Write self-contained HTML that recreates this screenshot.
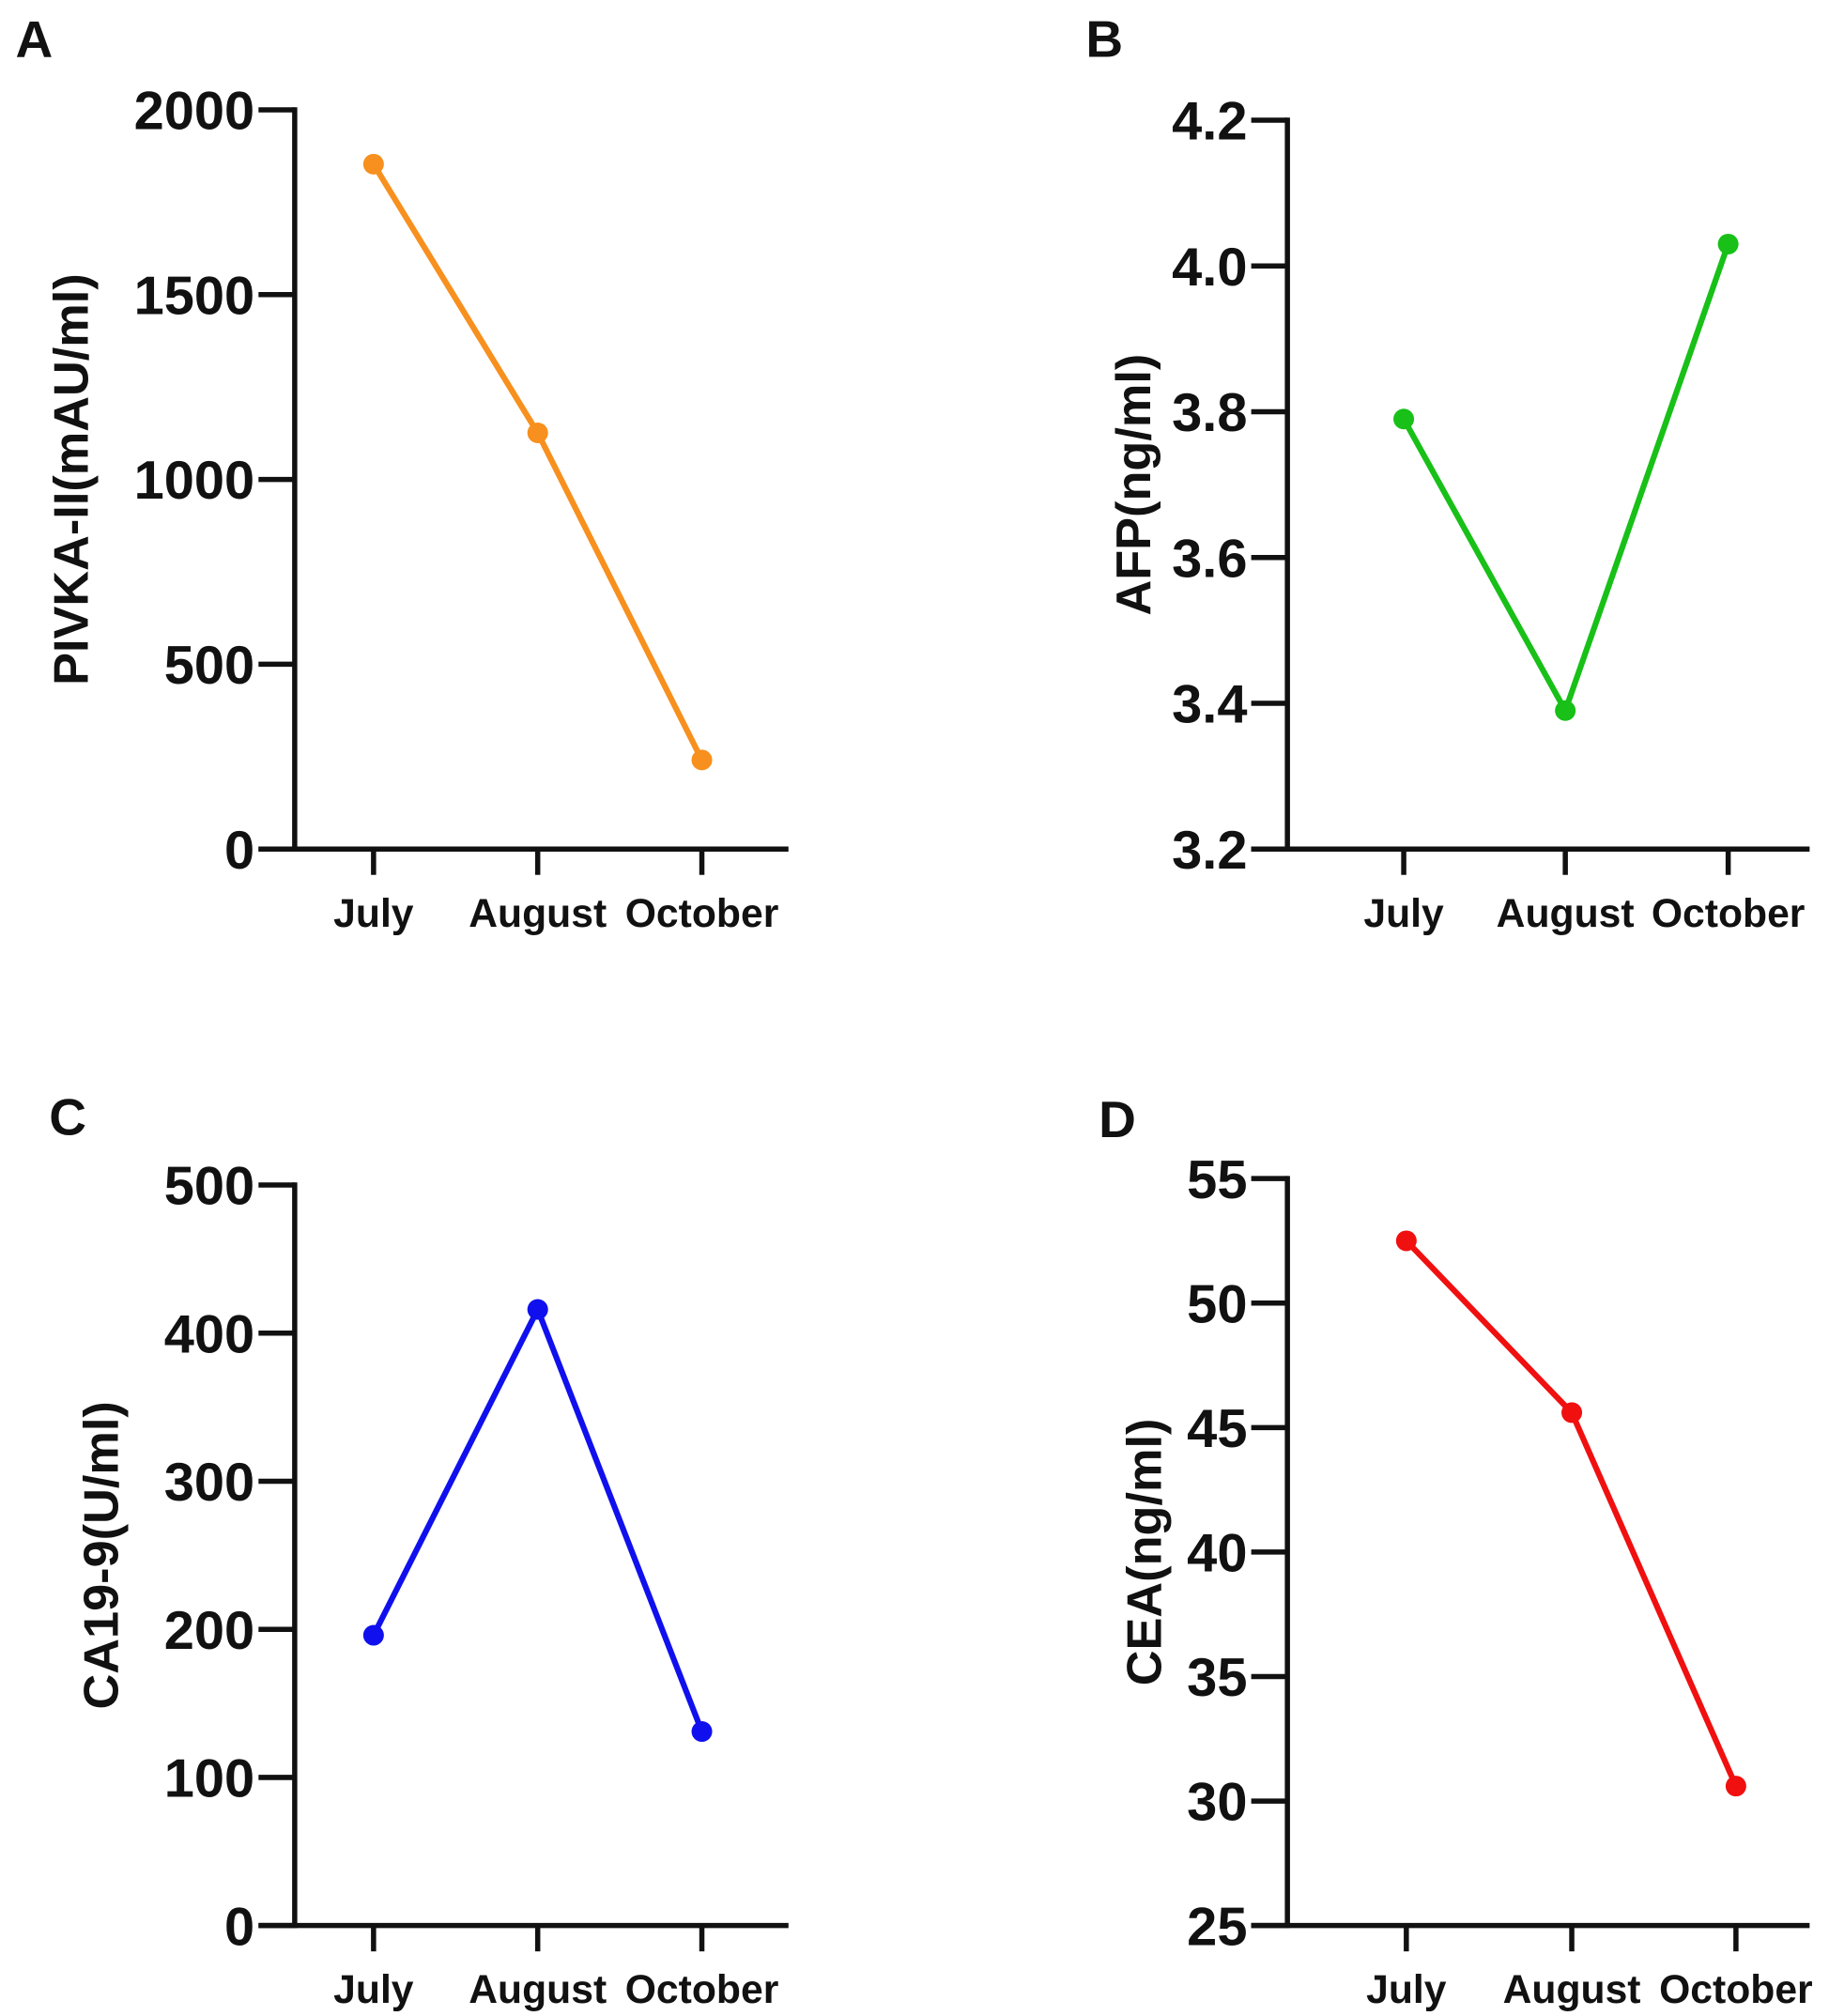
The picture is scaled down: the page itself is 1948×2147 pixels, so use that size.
<!DOCTYPE html>
<html><head><meta charset="utf-8"><style>
html,body{margin:0;padding:0;background:#fff;}
svg{display:block;}
text{font-family:"Liberation Sans",Arial,sans-serif;font-weight:bold;fill:#111;}
</style></head><body>
<svg id="fig" width="1948" height="2147" viewBox="0 0 1415 1560" preserveAspectRatio="none" xmlns="http://www.w3.org/2000/svg"></svg>
<script>
const categories = ["July","August","October"];
const valuesA = [1853, 1126, 241];
const valuesB = [3.79, 3.39, 4.03];
const valuesC = [196, 416, 131];
const valuesD = [52.5, 45.6, 30.6];
const ticksA = [0, 500, 1000, 1500, 2000];
const ticksB = [3.2, 3.4, 3.6, 3.8, 4.0, 4.2];
const ticksC = [0, 100, 200, 300, 400, 500];
const ticksD = [25, 30, 35, 40, 45, 50, 55];
const tickLabelsB = ["3.2","3.4","3.6","3.8","4.0","4.2"];

const NS = "http://www.w3.org/2000/svg";
const svg = document.getElementById('fig');
function mk(tag, attrs, parent){
  const e = document.createElementNS(NS, tag);
  for (const k in attrs) e.setAttribute(k, attrs[k]);
  (parent||svg).appendChild(e);
  return e;
}
function panel(cfg){
  const g = mk('g', {});
  
  
  const yS = v => cfg.bottom - (v - cfg.min) / (cfg.max - cfg.min) * (cfg.bottom - cfg.top);
  const xS = i => cfg.xticks[i];
  const lab = mk('text', {x: cfg.lx, y: cfg.ly, 'font-size': 40}, g);
  lab.textContent = cfg.id;
  
  
  const ya = mk('line', {x1: cfg.ax, y1: cfg.top - 2, x2: cfg.ax, y2: cfg.bottom + 2, stroke: '#111', 'stroke-width': 4}, g);
  
  
  const xa = mk('line', {x1: cfg.ax - 28, y1: cfg.bottom, x2: cfg.xend, y2: cfg.bottom, stroke: '#111', 'stroke-width': 4}, g);
  
  
  cfg.ticks.forEach((t, i) => {
    const y = yS(t);
    const tl = mk('line', {x1: cfg.ax - 28, y1: y, x2: cfg.ax, y2: y, stroke: '#111', 'stroke-width': 4}, g);
    
    
    const tx = mk('text', {x: cfg.ax - 31, y: y + 15, 'font-size': 42, 'text-anchor': 'end'}, g);
    tx.textContent = cfg.tickLabels ? cfg.tickLabels[i] : String(t);
    
    
  });
  categories.forEach((c, i) => {
    const x = xS(i);
    const tl = mk('line', {x1: x, y1: cfg.bottom, x2: x, y2: cfg.bottom + 20, stroke: '#111', 'stroke-width': 4}, g);
    
    
    const tx = mk('text', {x: x, y: cfg.bottom + 60, 'font-size': 31, 'text-anchor': 'middle'}, g);
    tx.textContent = c;
    
    
  });
  const ymid = (cfg.top + cfg.bottom) / 2;
  const tt = mk('text', {x: 0, y: 0, 'font-size': 38, 'text-anchor': 'middle', transform: `translate(${cfg.tx},${ymid}) rotate(-90)`}, g);
  tt.textContent = cfg.title;
  
  
  const pts = cfg.vals.map((v, i) => xS(i) + ',' + yS(v)).join(' ');
  const pl = mk('polyline', {points: pts, fill: 'none', stroke: cfg.color, 'stroke-width': 4.5}, g);
  
  
  cfg.vals.forEach((v, i) => {
    const c = mk('circle', {cx: xS(i), cy: yS(v), r: 8, fill: cfg.color}, g);
    
    
  });
}
panel({id:'A', lx:12, ly:44, ax:228, top:85, bottom:657, min:0, max:2000, xend:610, xticks:[289,416,543], ticks:ticksA, vals:valuesA, color:'#f7901e', title:'PIVKA-II(mAU/ml)', tx:68});
panel({id:'B', lx:840, ly:44, ax:996, top:93, bottom:657, min:3.2, max:4.2, xend:1400, xticks:[1086,1211,1337], ticks:ticksB, tickLabels:tickLabelsB, vals:valuesB, color:'#18c018', title:'AFP(ng/ml)', tx:890});
panel({id:'C', lx:38, ly:878, ax:228, top:917, bottom:1490, min:0, max:500, xend:610, xticks:[289,416,543], ticks:ticksC, vals:valuesC, color:'#1010ee', title:'CA19-9(U/ml)', tx:91});
panel({id:'D', lx:850, ly:880, ax:996, top:912, bottom:1490, min:25, max:55, xend:1400, xticks:[1088,1216,1343], ticks:ticksD, vals:valuesD, color:'#f01010', title:'CEA(ng/ml)', tx:898});
</script>
</body></html>
